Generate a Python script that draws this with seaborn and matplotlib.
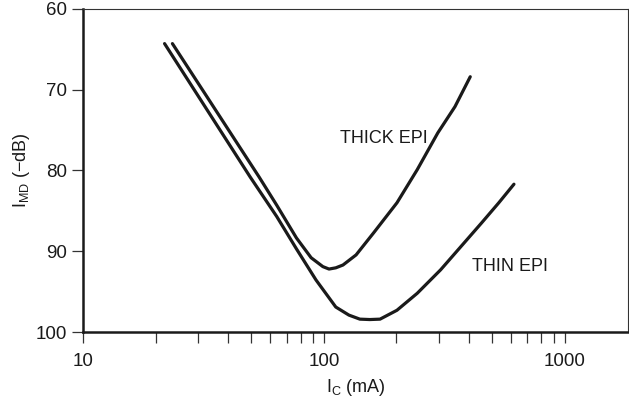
import numpy as np
import pandas as pd
import matplotlib
matplotlib.use("Agg")
import matplotlib.pyplot as plt
import matplotlib.ticker as mticker
import seaborn as sns

# values
thick_ic = [23.5, 53.8, 63.7, 76.9, 88.5, 99, 105, 112, 120, 136, 161, 201, 244, 297, 350, 405]
thick_imd = [64.3, 80.8, 84.3, 88.35, 90.8, 91.9, 92.2, 92.05, 91.7, 90.45, 87.7, 84.0, 79.9, 75.35, 72.1, 68.4]
thin_ic = [21.8, 49.4, 63.7, 76.9, 92.7, 112, 127, 141, 155, 171, 201, 244, 305, 451, 532, 615]
thin_imd = [64.3, 80.8, 85.7, 89.7, 93.55, 96.9, 97.9, 98.4, 98.45, 98.4, 97.3, 95.2, 92.3, 86.5, 84.0, 81.7]

labels = ["THICK EPI", "THIN EPI"]
label_pos = [(177, 76.0), (591, 91.9)]

df = pd.concat([
    pd.DataFrame({"ic": thick_ic, "imd": thick_imd, "epi": labels[0]}),
    pd.DataFrame({"ic": thin_ic, "imd": thin_imd, "epi": labels[1]}),
])

sns.set_style("ticks")
font = "Liberation Sans"
plt.rcParams["font.family"] = [font, "DejaVu Sans"]
plt.rcParams["mathtext.fontset"] = "custom"
plt.rcParams["mathtext.rm"] = font
plt.rcParams["mathtext.it"] = font

ink = "#1a1a1a"
fig = plt.figure(figsize=(6.29, 4.03), dpi=100)
ax = fig.add_axes([0.132, 0.176, 0.866, 0.802])

sns.lineplot(data=df, x="ic", y="imd", hue="epi", units="epi", estimator=None,
             palette=[ink, ink], linewidth=2.3, legend=False, ax=ax)
for ln in ax.lines:
    ln.set_solid_joinstyle("round")
    ln.set_solid_capstyle("round")

ax.set_xscale("log")
ax.set_xlim(10, 1825)
ax.set_ylim(100, 60)
ax.set_yticks([60, 70, 80, 90, 100])
ax.xaxis.set_major_locator(mticker.FixedLocator([10, 100, 1000]))
ax.xaxis.set_major_formatter(mticker.FixedFormatter(["10", "100", "1000"]))
ax.xaxis.set_minor_locator(mticker.LogLocator(base=10, subs=np.arange(2, 10)))
ax.xaxis.set_minor_formatter(mticker.NullFormatter())

for sp in ["top", "right"]:
    ax.spines[sp].set_visible(True)
    ax.spines[sp].set_linewidth(0.8)
    ax.spines[sp].set_color("#333333")
for sp in ["left", "bottom"]:
    ax.spines[sp].set_linewidth(1.8)
    ax.spines[sp].set_color(ink)

ax.tick_params(axis="both", which="both", direction="out", length=8, width=0.9,
               color="#333333", labelsize=13.5, labelcolor=ink)
ax.tick_params(axis="x", pad=7)

ax.set_xlabel(r"$\mathregular{I_C}$ (mA)", fontsize=13, color=ink, labelpad=5)
ax.set_ylabel(r"$\mathregular{I_{MD}}$ (−dB)", fontsize=13, color=ink, labelpad=3)

for txt, (x, y) in zip(labels, label_pos):
    ax.text(x, y, txt, fontsize=13, color=ink, ha="center", va="center")

fig.savefig("out.png", dpi=100)
